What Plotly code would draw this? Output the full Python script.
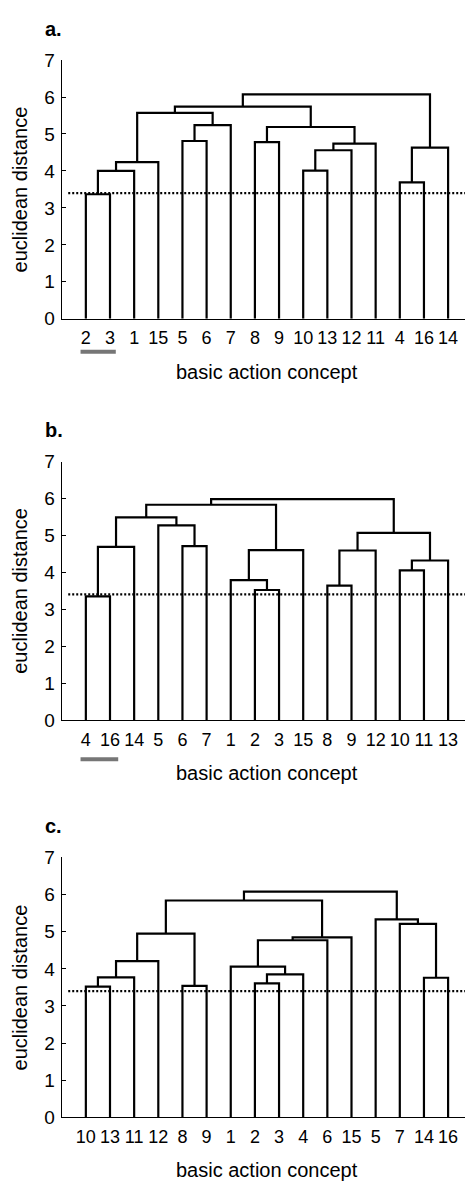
import plotly.graph_objects as go

# Leaf order along the x axis (concept numbers), one list per panel
order_a = [2, 3, 1, 15, 5, 6, 7, 8, 9, 10, 13, 12, 11, 4, 16, 14]
order_b = [4, 16, 14, 5, 6, 7, 1, 2, 3, 15, 8, 9, 12, 10, 11, 13]
order_c = [10, 13, 11, 12, 8, 9, 1, 2, 3, 4, 6, 15, 5, 7, 14, 16]

# Linkage steps: ids 1-16 are concepts, id 17 is the first merge, 18 the second, ...
pairs_a = [(2, 3), (4, 16), (17, 1), (10, 13), (19, 15), (20, 12), (18, 14), (22, 11),
           (8, 9), (5, 6), (25, 24), (26, 7), (21, 28), (29, 27), (30, 23)]
heights_a = [3.37, 3.69, 4.00, 4.01, 4.24, 4.56, 4.63, 4.74,
             4.78, 4.81, 5.19, 5.24, 5.57, 5.74, 6.07]

pairs_b = [(4, 16), (2, 3), (8, 9), (1, 18), (10, 11), (21, 13), (19, 12), (20, 15),
           (17, 14), (6, 7), (23, 22), (5, 26), (25, 28), (29, 24), (30, 27)]
heights_b = [3.35, 3.52, 3.64, 3.79, 4.05, 4.32, 4.59, 4.60,
             4.69, 4.71, 5.07, 5.27, 5.49, 5.83, 5.98]

pairs_c = [(10, 13), (8, 9), (2, 3), (14, 16), (17, 11), (19, 4), (1, 22), (21, 12),
           (23, 6), (25, 15), (24, 18), (7, 20), (5, 28), (27, 26), (30, 29)]
heights_c = [3.52, 3.54, 3.61, 3.76, 3.77, 3.85, 4.06, 4.21,
             4.77, 4.85, 4.95, 5.21, 5.33, 5.84, 6.08]

threshold = 3.4
highlight_a = [2, 3]
highlight_b = [4, 16]
panel_letters = ["a.", "b.", "c."]
y_ticks = [0, 1, 2, 3, 4, 5, 6, 7]

FONT = "Liberation Sans, Arial, sans-serif"
W, H = 465, 1188
# pixel rows of y=7 and y=0 for each panel
panel_px = [(51.0, 314.3), (459.7, 722.7), (862.7, 1127.3)]
AXIS_LEFT = 61.7
LEAF_STEP = 24.15


def dendro_xy(order, pairs, heights):
    n = len(order)
    pos = {leaf: i + 1 for i, leaf in enumerate(order)}
    hgt = {leaf: 0.0 for leaf in order}
    xs, ys = [], []
    for k, ((l, r), h) in enumerate(zip(pairs, heights)):
        node = n + 1 + k
        xs += [pos[l], pos[l], pos[r], pos[r], None]
        ys += [hgt[l], h, h, hgt[r], None]
        pos[node] = (pos[l] + pos[r]) / 2
        hgt[node] = h
    return xs, ys


panels = [(order_a, pairs_a, heights_a, highlight_a),
          (order_b, pairs_b, heights_b, highlight_b),
          (order_c, pairs_c, heights_c, None)]

fig = go.Figure()
x_max = (W - AXIS_LEFT) / LEAF_STEP
layout = dict(width=W, height=H, margin=dict(l=0, r=0, t=0, b=0),
              paper_bgcolor="white", plot_bgcolor="white", showlegend=False,
              font=dict(family=FONT, color="black"))
annotations, shapes = [], []
bar_offsets = [33.5, 40.0]

for i, (order, pairs, heights, hl) in enumerate(panels):
    sfx = "" if i == 0 else str(i + 1)
    xa, ya = "x" + sfx, "y" + sfx
    xs, ys = dendro_xy(order, pairs, heights)
    fig.add_trace(go.Scatter(x=xs, y=ys, mode="lines", xaxis=xa, yaxis=ya,
                             line=dict(color="black", width=2.2), hoverinfo="skip"))
    fig.add_trace(go.Scatter(x=[0.27, 17], y=[threshold, threshold], mode="lines",
                             xaxis=xa, yaxis=ya, hoverinfo="skip",
                             line=dict(color="black", width=2.2, dash="2px,2px")))
    top, bot = panel_px[i]
    layout["xaxis" + sfx] = dict(domain=[AXIS_LEFT / W, 1], range=[0, x_max],
                                 anchor=ya, showline=True, linecolor="black", linewidth=1,
                                 ticks="", showgrid=False, zeroline=False,
                                 tickmode="array", tickvals=list(range(1, len(order) + 1)),
                                 ticktext=[str(v) for v in order],
                                 tickfont=dict(size=18, family=FONT, color="black"),
                                 ticklabelstandoff=3)
    layout["yaxis" + sfx] = dict(domain=[1 - bot / H, 1 - top / H], range=[0, 7],
                                 anchor=xa, showline=True, linecolor="black", linewidth=1,
                                 ticks="inside", ticklen=4, tickwidth=1, tickcolor="black",
                                 tickvals=y_ticks, showgrid=False, zeroline=False,
                                 tickfont=dict(size=19, family=FONT, color="black"),
                                 ticklabelstandoff=2)
    annotations.append(dict(text="euclidean distance", textangle=-90, showarrow=False,
                            xref="paper", x=20 / W, xanchor="center",
                            yref=ya + " domain", y=0.5, yanchor="middle",
                            font=dict(size=20, family=FONT, color="black")))
    annotations.append(dict(text="basic action concept", showarrow=False,
                            xref=xa, x=(len(order) + 1) / 2, xanchor="center",
                            yref=ya + " domain", y=0, yanchor="middle", yshift=-53,
                            font=dict(size=20, family=FONT, color="black")))
    annotations.append(dict(text="<b>%s</b>" % panel_letters[i], showarrow=False,
                            xref="paper", x=43 / W, xanchor="left",
                            yref="paper", y=1 - (top - 32) / H, yanchor="middle",
                            font=dict(size=20, family=FONT, color="black")))
    if hl:
        p0 = order.index(hl[0]) + 1
        p1 = order.index(hl[1]) + 1
        span = bot - top
        off = bar_offsets[i]
        shapes.append(dict(type="line", xref=xa, yref=ya + " domain",
                           x0=p0 - 0.22, x1=p1 + 0.24 + 0.1 * i,
                           y0=-off / span, y1=-off / span,
                           line=dict(color="#767676", width=4)))

layout["annotations"] = annotations
layout["shapes"] = shapes
fig.update_layout(**layout)
fig.write_html("out.html")
